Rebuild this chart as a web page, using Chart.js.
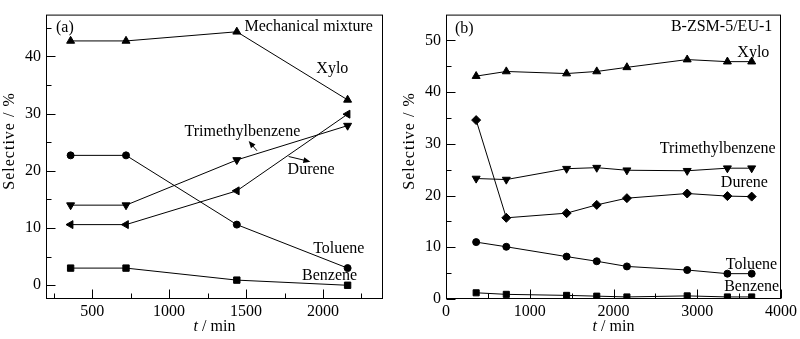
<!DOCTYPE html>
<html lang="en">
<head>
<meta charset="UTF-8">
<title>Selectivity vs. time on stream</title>
<style>
  html, body { margin: 0; padding: 0; background: #fff; }
  #wrap { display: flex; width: 800px; height: 339px; }
  canvas { display: block; }
</style>
<script src="https://cdn.jsdelivr.net/npm/chart.js@4.4.1/dist/chart.umd.min.js"></script>
</head>
<body>
<div id="wrap">
  <canvas id="chartA" width="400" height="339"></canvas>
  <canvas id="chartB" width="400" height="339"></canvas>
</div>
<script>
// (a) mechanical mixture
const timeA = [360, 720, 1440, 2160];
const xyloA = [42.7, 42.7, 44.3, 32.4];
const trimethylA = [14.0, 14.0, 21.9, 27.9];
const dureneA = [10.6, 10.6, 16.5, 29.9];
const tolueneA = [22.7, 22.7, 10.6, 3.0];
const benzeneA = [3.0, 3.0, 0.9, 0.0];

// (b) B-ZSM-5/EU-1
const timeB = [360, 720, 1440, 1800, 2160, 2880, 3360, 3650];
const xyloB = [43.1, 44.0, 43.6, 44.0, 44.8, 46.3, 45.9, 45.9];
const trimethylB = [23.3, 23.1, 25.2, 25.4, 24.9, 24.8, 25.3, 25.3];
const dureneB = [34.6, 15.7, 16.6, 18.2, 19.5, 20.4, 19.9, 19.8];
const tolueneB = [11.0, 10.1, 8.2, 7.3, 6.3, 5.6, 4.9, 4.9];
const benzeneB = [1.2, 0.9, 0.7, 0.55, 0.4, 0.6, 0.4, 0.4];

// tick labels
const xTicksA = [500, 1000, 1500, 2000];
const yTicksA = [0, 10, 20, 30, 40];
const xTicksB = [0, 1000, 2000, 3000, 4000];
const yTicksB = [0, 10, 20, 30, 40, 50];

// annotations, anchored in data units: [text, x, y]
const notesA = [
  ['(a)', 265, 45.0],
  ['Mechanical mixture', 1490, 45.1],
  ['Xylo', 1957, 37.9],
  ['Trimethylbenzene', 1100, 26.9],
  ['Durene', 1770, 20.1],
  ['Toluene', 1936, 6.4],
  ['Benzene', 1864, 1.7]
];
const arrowsA = [
  [1571, 23.5, 1517, 25.2],
  [1777, 22.5, 1918, 21.6]
];
const notesB = [
  ['(b)', 107, 52.3],
  ['B-ZSM-5/EU-1', 2686, 52.6],
  ['Xylo', 3479, 47.7],
  ['Trimethylbenzene', 2553, 29.0],
  ['Durene', 3282, 22.4],
  ['Toluene', 3341, 6.7],
  ['Benzene', 3321, 2.4]
];

const SERIF = '"Liberation Serif", "Times New Roman", serif';

function minorTicks(majors, min, max) {
  const step = majors[1] - majors[0];
  const out = [];
  for (let v = majors[0] - step / 2; v < max; v += step) {
    if (v > min) out.push(v);
  }
  return out;
}

function series(times, values, style, radius, rotation) {
  return {
    data: times.map((t, i) => ({ x: t, y: values[i] })),
    borderColor: '#000',
    backgroundColor: '#000',
    borderWidth: 1,
    pointStyle: style,
    pointRadius: radius,
    pointRotation: rotation || 0,
    pointBorderWidth: 1,
    tension: 0
  };
}

// frame, inward ticks, axis titles and text labels
function axesFrame(xMaj, yMaj, notes, arrows) {
  return {
    id: 'axesFrame',
    afterDraw(chart) {
      const { ctx, chartArea: a } = chart;
      const xs = chart.scales.x, ys = chart.scales.y;
      ctx.save();
      ctx.fillStyle = '#000';
      ctx.strokeStyle = '#000';
      ctx.lineWidth = 1;
      ctx.strokeRect(a.left + 0.5, a.top + 0.5, a.right - a.left - 1, a.bottom - a.top - 1);

      // tick marks point into the plot
      const bottom = a.bottom - 0.5, left = a.left + 0.5;
      const seg = (x0, y0, x1, y1) => {
        ctx.beginPath();
        ctx.moveTo(x0, y0);
        ctx.lineTo(x1, y1);
        ctx.stroke();
      };
      xMaj.forEach(v => {
        const px = Math.round(xs.getPixelForValue(v)) + 0.5;
        seg(px, bottom, px, bottom - 9);
      });
      minorTicks(xMaj, xs.min, xs.max).forEach(v => {
        const px = Math.round(xs.getPixelForValue(v)) + 0.5;
        seg(px, bottom, px, bottom - 5);
      });
      yMaj.forEach(v => {
        const py = Math.round(ys.getPixelForValue(v)) + 0.5;
        seg(left, py, left + 9, py);
      });
      minorTicks(yMaj, ys.min, ys.max).forEach(v => {
        const py = Math.round(ys.getPixelForValue(v)) + 0.5;
        seg(left, py, left + 5, py);
      });

      ctx.font = '16px ' + SERIF;
      ctx.textAlign = 'left';
      ctx.textBaseline = 'middle';
      notes.forEach(([text, x, y]) => {
        ctx.fillText(text, xs.getPixelForValue(x), ys.getPixelForValue(y));
      });

      arrows.forEach(([x0, y0, x1, y1]) => {
        const ax = xs.getPixelForValue(x0), ay = ys.getPixelForValue(y0);
        const bx = xs.getPixelForValue(x1), by = ys.getPixelForValue(y1);
        const ang = Math.atan2(by - ay, bx - ax);
        const c = Math.cos(ang), s = Math.sin(ang);
        seg(ax, ay, bx - 4 * c, by - 4 * s);
        ctx.beginPath();
        ctx.moveTo(bx, by);
        ctx.lineTo(bx - 7 * c + 3 * s, by - 7 * s - 3 * c);
        ctx.lineTo(bx - 7 * c - 3 * s, by - 7 * s + 3 * c);
        ctx.closePath();
        ctx.fill();
      });

      // y title
      ctx.save();
      ctx.translate(10, 141);
      ctx.rotate(-Math.PI / 2);
      ctx.textAlign = 'center';
      ctx.letterSpacing = '1px';
      ctx.fillText('Selective / %', 0, 0);
      ctx.restore();

      // x title: italic t, upright unit
      const cx = (a.left + a.right) / 2, ty = 327;
      ctx.font = 'italic 16px ' + SERIF;
      const wT = ctx.measureText('t').width;
      ctx.font = '16px ' + SERIF;
      const wRest = ctx.measureText(' / min').width;
      const x0 = cx - (wT + wRest) / 2;
      ctx.font = 'italic 16px ' + SERIF;
      ctx.fillText('t', x0, ty);
      ctx.font = '16px ' + SERIF;
      ctx.fillText(' / min', x0 + wT, ty);
      ctx.restore();
    }
  };
}

function makeChart(id, datasets, xr, yr, xTicks, yTicks, notes, arrows) {
  const tickFont = { family: SERIF, size: 16 };
  return new Chart(document.getElementById(id), {
    type: 'line',
    data: { datasets },
    plugins: [axesFrame(xTicks, yTicks, notes, arrows)],
    options: {
      responsive: false,
      animation: false,
      layout: { padding: { top: 1, right: 17, left: 0, bottom: 0 } },
      plugins: {
        legend: { display: false },
        tooltip: { enabled: false }
      },
      scales: {
        x: {
          type: 'linear', min: xr[0], max: xr[1],
          afterFit: s => { s.height = 40; },
          afterBuildTicks: s => { s.ticks = xTicks.map(v => ({ value: v })); },
          grid: { display: false, drawTicks: false },
          border: { display: false },
          ticks: { font: tickFont, color: '#000', padding: 3, maxRotation: 0, autoSkip: false, callback: v => String(v) }
        },
        y: {
          type: 'linear', min: yr[0], max: yr[1],
          afterFit: s => { s.width = 46; },
          afterBuildTicks: s => { s.ticks = yTicks.map(v => ({ value: v })); },
          grid: { display: false, drawTicks: false },
          border: { display: false },
          ticks: { font: tickFont, color: '#000', padding: 5, autoSkip: false, callback: v => String(v) }
        }
      }
    }
  });
}

makeChart('chartA', [
  series(timeA, xyloA, 'triangle', 4.6),
  series(timeA, trimethylA, 'triangle', 4.6, 180),
  series(timeA, dureneA, 'triangle', 4.6, 270),
  series(timeA, tolueneA, 'circle', 3.5),
  series(timeA, benzeneA, 'rect', 4.5)
], [200, 2390], [-2.4, 47.3], xTicksA, yTicksA, notesA, arrowsA);

makeChart('chartB', [
  series(timeB, xyloB, 'triangle', 4.6),
  series(timeB, trimethylB, 'triangle', 4.6, 180),
  series(timeB, dureneB, 'rectRot', 4.5),
  series(timeB, tolueneB, 'circle', 3.5),
  series(timeB, benzeneB, 'rect', 4.3)
], [0, 4000], [0, 55], xTicksB, yTicksB, notesB, []);
</script>
</body>
</html>
